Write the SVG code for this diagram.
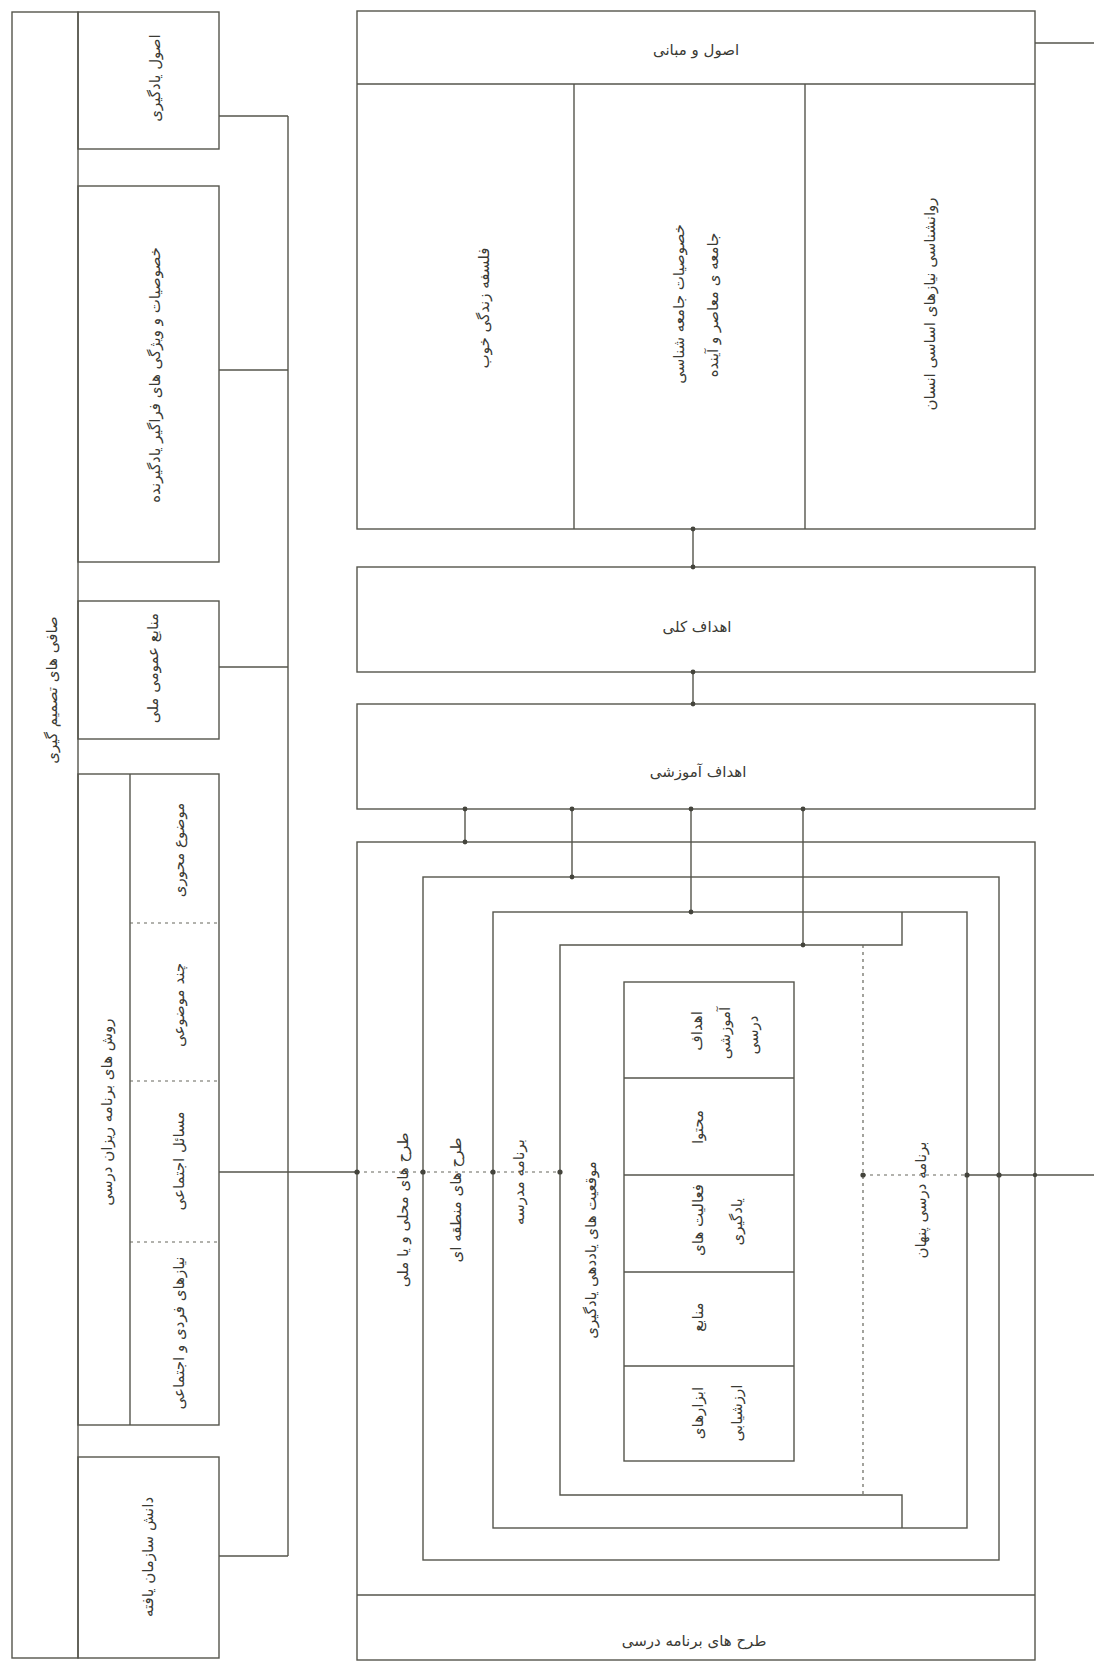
<svg xmlns="http://www.w3.org/2000/svg" width="1094" height="1663" viewBox="0 0 1094 1663">
<style>
.b{fill:none;stroke:#55554c;stroke-width:1.4}
.d{fill:none;stroke:#66665c;stroke-width:1.2;stroke-dasharray:3 4}
.t{font-family:"DejaVu Sans",sans-serif;font-size:15px;fill:#3a3a34;text-anchor:middle;dominant-baseline:central}
.dot{fill:#44443c}
</style>
<rect width="1094" height="1663" fill="#ffffff"/>

<g id="n-filters">
<rect class="b" x="12" y="12" width="66" height="1646"/>
<text class="t" transform="translate(52,690) rotate(-90)">صافی های تصمیم گیری</text>
</g>
<g id="n-learning-principles">
<rect class="b" x="78" y="12" width="141" height="137"/>
<text class="t" transform="translate(155,78) rotate(-90)">اصول یادگیری</text>
</g>
<g id="n-learner">
<rect class="b" x="78" y="186" width="141" height="376"/>
<text class="t" transform="translate(155,375) rotate(-90)">خصوصیات و ویژگی های فراگیر یادگیرنده</text>
</g>
<g id="n-national">
<rect class="b" x="78" y="601" width="141" height="138"/>
<text class="t" transform="translate(153,668) rotate(-90)">منابع عمومی ملی</text>
</g>
<g id="n-methods">
<rect class="b" x="78" y="774" width="141" height="651"/>
<line class="b" x1="130" y1="774" x2="130" y2="1425"/>
<line class="d" x1="130" y1="923" x2="219" y2="923"/>
<line class="d" x1="130" y1="1081" x2="219" y2="1081"/>
<line class="d" x1="130" y1="1242" x2="219" y2="1242"/>
<text class="t" transform="translate(107,1112) rotate(-90)">روش های برنامه ریزان درسی</text>
<text class="t" transform="translate(179,850) rotate(-90)">موضوع محوری</text>
<text class="t" transform="translate(179,1005) rotate(-90)">چند موضوعی</text>
<text class="t" transform="translate(179,1161) rotate(-90)">مسائل اجتماعی</text>
<text class="t" transform="translate(179,1333) rotate(-90)">نیازهای فردی و اجتماعی</text>
</g>
<g id="n-knowledge">
<rect class="b" x="78" y="1457" width="141" height="201"/>
<text class="t" transform="translate(148,1557) rotate(-90)">دانش سازمان یافته</text>
</g>

<g id="n-principles">
<rect class="b" x="357" y="11" width="678" height="518"/>
<line class="b" x1="357" y1="84" x2="1035" y2="84"/>
<line class="b" x1="574" y1="84" x2="574" y2="529"/>
<line class="b" x1="805" y1="84" x2="805" y2="529"/>
<text class="t" x="696" y="50">اصول و مبانی</text>
<text class="t" transform="translate(484,308) rotate(-90)">فلسفه زندگی خوب</text>
<text class="t" transform="translate(679,304) rotate(-90)">خصوصیات جامعه شناسی</text>
<text class="t" transform="translate(713,305) rotate(-90)">جامعه ی معاصر و آینده</text>
<text class="t" transform="translate(930,304) rotate(-90)">روانشناسی نیازهای اساسی انسان</text>
</g>
<g id="n-general-goals">
<rect class="b" x="357" y="567" width="678" height="105"/>
<text class="t" x="697" y="627">اهداف کلی</text>
</g>
<g id="n-edu-goals">
<rect class="b" x="357" y="704" width="678" height="105"/>
<text class="t" x="698" y="772">اهداف آموزشی</text>
</g>
<g id="n-curriculum-plans">
<rect class="b" x="357" y="842" width="678" height="818"/>
<line class="b" x1="357" y1="1595" x2="1035" y2="1595"/>
<text class="t" transform="translate(403,1210) rotate(-90)">طرح های محلی و یا ملی</text>
<text class="t" x="694" y="1641">طرح های برنامه درسی</text>
</g>
<g id="n-regional">
<rect class="b" x="423" y="877" width="576" height="683"/>
<text class="t" transform="translate(456,1200) rotate(-90)">طرح های منطقه ای</text>
</g>
<g id="n-school">
<rect class="b" x="493" y="912" width="474" height="616"/>
<text class="t" transform="translate(519,1182) rotate(-90)">برنامه مدرسه</text>
</g>
<g id="n-situations">
<path class="b" d="M902 912 V945 H560 V1495 H902 V1528"/>
<text class="t" transform="translate(591,1250) rotate(-90)">موقعیت های یاددهی یادگیری</text>
</g>
<g id="n-hidden">
<line class="d" x1="863" y1="945" x2="863" y2="1495"/>
<text class="t" transform="translate(921,1200) rotate(-90)">برنامه درسی پنهان</text>
</g>
<g id="n-elements">
<rect class="b" x="624" y="982" width="170" height="479"/>
<line class="b" x1="624" y1="1078" x2="794" y2="1078"/>
<line class="b" x1="624" y1="1175" x2="794" y2="1175"/>
<line class="b" x1="624" y1="1272" x2="794" y2="1272"/>
<line class="b" x1="624" y1="1366" x2="794" y2="1366"/>
<text class="t" transform="translate(697,1031) rotate(-90)">اهداف</text>
<text class="t" transform="translate(725,1033) rotate(-90)">آموزشی</text>
<text class="t" transform="translate(753,1035) rotate(-90)">درسی</text>
<text class="t" transform="translate(698,1127) rotate(-90)">محتوا</text>
<text class="t" transform="translate(698,1220) rotate(-90)">فعالیت های</text>
<text class="t" transform="translate(737,1222) rotate(-90)">یادگیری</text>
<text class="t" transform="translate(698,1317) rotate(-90)">منابع</text>
<text class="t" transform="translate(698,1413) rotate(-90)">ابزارهای</text>
<text class="t" transform="translate(737,1413) rotate(-90)">ارزشیابی</text>
</g>

<g id="connectors">
<path class="b" d="M219 116 H288 M219 370 H288 M219 667 H288 M219 1556 H288 M288 116 V1556 M219 1172 H357"/>
<path class="b" d="M1035 43 H1094"/>
<path class="b" d="M693 529 V567 M693 672 V704 M465 809 V842 M572 809 V877 M691 809 V912 M803 809 V945"/>
<path class="d" d="M357 1172 H560 M863 1175 H967"/>
<path class="b" d="M967 1175 H1094"/>
<g class="dot">
<circle cx="357" cy="1172" r="2.6"/>
<circle cx="423" cy="1172" r="2.6"/>
<circle cx="493" cy="1172" r="2.6"/>
<circle cx="560" cy="1172" r="2.6"/>
<circle cx="863" cy="1175" r="2.6"/>
<circle cx="967" cy="1175" r="2.6"/>
<circle cx="999" cy="1175" r="2.6"/>
<circle cx="1035" cy="1175" r="2.2"/>
<circle cx="693" cy="529" r="2.4"/>
<circle cx="693" cy="567" r="2.4"/>
<circle cx="693" cy="672" r="2.4"/>
<circle cx="693" cy="704" r="2.4"/>
<circle cx="465" cy="809" r="2.4"/>
<circle cx="572" cy="809" r="2.4"/>
<circle cx="691" cy="809" r="2.4"/>
<circle cx="803" cy="809" r="2.4"/>
<circle cx="465" cy="842" r="2.4"/>
<circle cx="572" cy="877" r="2.4"/>
<circle cx="691" cy="912" r="2.4"/>
<circle cx="803" cy="945" r="2.4"/>
</g>
</g>
</svg>
